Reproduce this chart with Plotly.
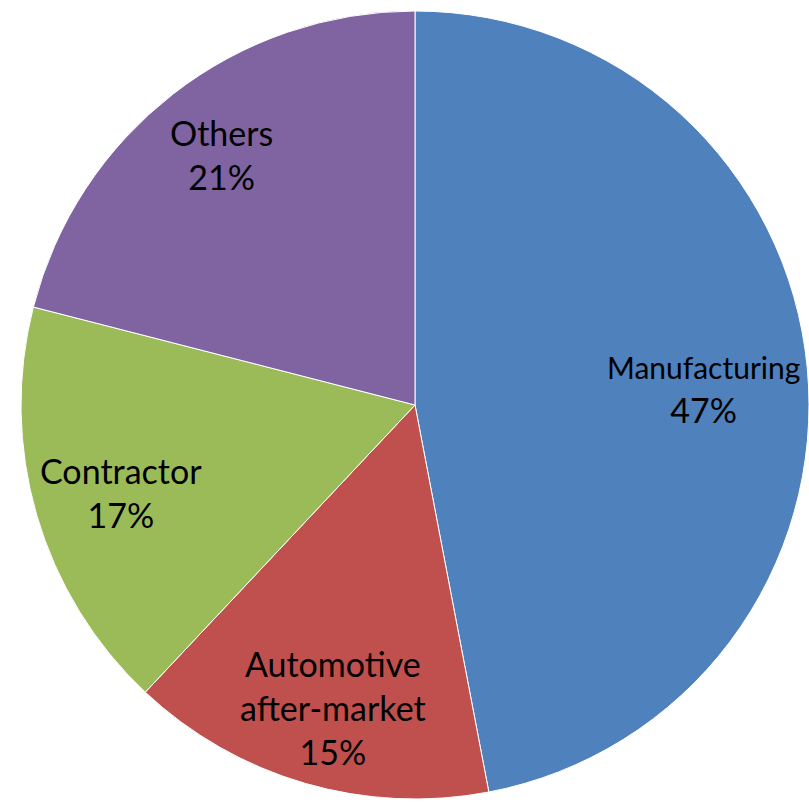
import math
import plotly.graph_objects as go

# ---- data ----
categories = ["Manufacturing", "Automotive<br>after-market", "Contractor", "Others"]
values = [47, 15, 17, 21]
colors = ["#4F81BD", "#C0504D", "#9BBB59", "#8064A2"]

# ---- layout constants ----
W, H = 809, 802
dom_x = [21 / W, 1.0]
dom_y = [1.5 / H, 1 - 9.5 / H]
label_frac = [0.73, 0.80, 0.78, 0.80]
label_shift = [(2, 12), (6, 0), (1, 2), (0, -1)]   # px nudges (dx, dy)
name_size = [30, 34, 34, 34]
PCT_SIZE = 34
FONT = "Lato, Calibri, sans-serif"

fig = go.Figure(go.Pie(
    labels=categories,
    values=values,
    sort=False,
    direction="clockwise",
    rotation=0,
    marker=dict(colors=colors, line=dict(color="white", width=1)),
    textinfo="none",
    hoverinfo="label+percent",
    domain=dict(x=dom_x, y=dom_y),
    showlegend=False,
))

# label positions derived from the slice angles
wpx = (dom_x[1] - dom_x[0]) * W
hpx = (dom_y[1] - dom_y[0]) * H
r = min(wpx, hpx) / 2
cx = (dom_x[0] + dom_x[1]) / 2 * W
cy = (1 - (dom_y[0] + dom_y[1]) / 2) * H
total = sum(values)
cum = 0
for lab, v, f, (sx, sy), ns in zip(categories, values, label_frac, label_shift, name_size):
    mid = (cum + v / 2) / total * 2 * math.pi
    cum += v
    px = cx + f * r * math.sin(mid) + sx
    py = cy - f * r * math.cos(mid) + sy
    pct = round(v / total * 100)
    if ns != PCT_SIZE:
        name = "<br>".join(f"<span style='font-size:{ns}px'>{p}</span>" for p in lab.split("<br>"))
    else:
        name = lab
    fig.add_annotation(
        x=px / W, y=1 - py / H, xref="paper", yref="paper",
        text=f"{name}<br>{pct}%", showarrow=False,
        font=dict(family=FONT, size=PCT_SIZE, color="black"),
        align="center", xanchor="center", yanchor="middle",
    )

fig.update_layout(
    width=W, height=H,
    margin=dict(l=0, r=0, t=0, b=0),
    paper_bgcolor="white", plot_bgcolor="white",
)
fig.write_html("out.html")
